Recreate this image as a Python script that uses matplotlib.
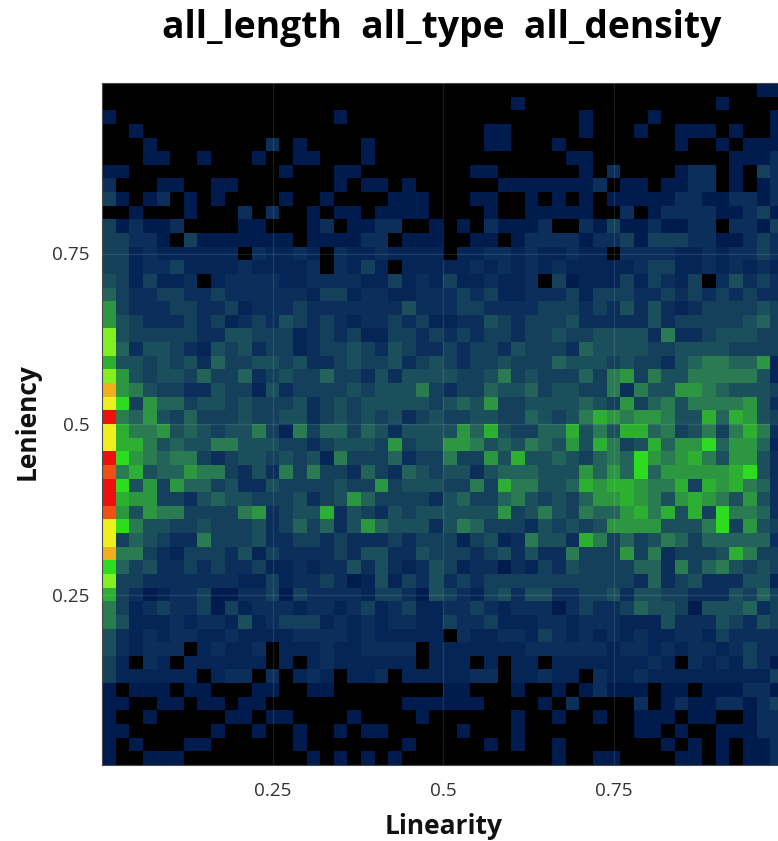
import matplotlib
matplotlib.use("Agg")
import matplotlib.pyplot as plt
import numpy as np
from matplotlib.colors import ListedColormap, BoundaryNorm

TITLE = "all_length  all_type  all_density"
X_LABEL = "Linearity"
Y_LABEL = "Leniency"
TICK_VALUES = [0.25, 0.5, 0.75]
TICK_LABELS = ["0.25", "0.5", "0.75"]

# Density level per cell, top row first, one character per cell
LEVEL_ROWS = [
    "0000000000000000000000000" "0000000000000000000000011",
    "0000000000000000000000000" "0000010000000000000010000",
    "1000000000000000010000000" "0000000000100001000000001",
    "0010000000000000000000000" "0001100000100010011101001",
    "0001000000002010000100000" "0001100010000000010010111",
    "0001100100010011000100000" "0000000001100000000001112",
    "1100000000000100011000000" "0011000000102000012201032",
    "2000110011000000010110100" "0000111111120110112201012",
    "3101201010000100100001110" "0011001010101111122112212",
    "0010001000202001011011110" "0001001111100201222211231",
    "3121120000110001201122001" "0102111200213112112202213",
    "3322103111111101111220111" "0011012222122313332211232",
    "33f2f" "fffff" "02ff2" "f02ff" "2ffff" "0ff22" "f2ff2" "ff022" "22ff2" "f2232",
    "33f22" "3ffff" "2ffff" "202f3" "f0fff" "ff2f2" "f2f2f" "ffff2" "33ff2" "f2f2f",
    "43f3f" "f20f2" "222ff" "2222f" "f3f2f" "3ff2f" "f2031" "fff3f" "32f30" "24232",
    "53223" "32232" "22222" "f33f2" "2ff22" "2323f" "f2223" "f3332" "23232" "32322",
    "73222" "33223" "f2223" "22222" "22422" "23322" "22333" "23242" "42f23" "33343",
    "74322" "2323f" "23243" "232f2" "2323f" "f2243" "23334" "22222" "42333" "33453",
    "a4333" "33224" "4333f" "2323f" "f3323" "23233" "23343" "34444" "26223" "44433",
    "a5244" "32f43" "4233f" "23343" "24322" "32332" "43332" "54444" "33444" "43333",
    "84434" "34253" "34434" "22343" "34234" "32334" "33354" "44343" "32456" "6557f",
    "a7434" "43533" "52343" "35332" "42444" "43346" "34333" "53673" "64466" "6664f",
    "c7643" "32243" "3f423" "33343" "44463" "23354" "45344" "33626" "44776" "54443",
    "b9375" "53443" "43334" "23434" "44443" "45473" "34444" "54373" "56466" "66742",
    "e6574" "35333" "43344" "23434" "34234" "33443" "35434" "68767" "76448" "58743",
    "b8667" "45434" "463f6" "35535" "42444" "47584" "33558" "46488" "56346" "36862",
    "b8864" "54466" "44433" "23444" "37344" "77645" "46547" "48634" "85779" "5775f",
    "e9765" "66323" "44343" "4f633" "35233" "63374" "84454" "35659" "76786" "47742",
    "d6845" "57663" "24263" "63325" "32543" "44245" "55444" "75759" "57777" "78942",
    "e9473" "75534" "22433" "33433" "73444" "33638" "66445" "87887" "66838" "78652",
    "e8773" "32454" "43334" "23475" "33332" "45335" "64343" "57787" "64787" "64742",
    "d7476" "63333" "67234" "48243" "24344" "44447" "34643" "65578" "68483" "96652",
    "b9644" "33433" "34235" "35247" "54442" "46533" "32434" "34777" "74446" "93743",
    "b3543" "22633" "34223" "32322" "23233" "3f34f" "26442" "86353" "46535" "55552",
    "c6632" "f3332" "4f322" "22324" "42243" "33234" "24226" "33373" "62333" "48633",
    "95342" "23232" "23ff2" "f2242" "42f24" "3f221" "2f324" "33335" "52635" "64343",
    "a3322" "22222" "ff3f2" "2321f" "4f324" "23233" "33333" "33332" "52342" "2244f",
    "8321f" "22311" "22313" "2222f" "33214" "32f34" "24422" "33424" "43322" "24353",
    "63f23" "22313" "f222f" "22f23" "f23ff" "2232f" "22212" "32235" "44314" "44523",
    "64fff" "2f22f" "4f233" "3f2f2" "f22ff" "3223f" "ff22f" "222ff" "f4222" "43243",
    "42f2f" "22ff2" "ffff2" "222f2" "fffff" "02ff2" "2f32f" "2f2f2" "ff22f" "32222",
    "42f22" "20f2f" "f20ff" "f2ff2" "2220f" "fffff" "f2222" "22f22" "f2f22" "f2322",
    "3f02f" "0ffff" "ff0f0" "f2fff" "fff0f" "ff0f0" "ff0ff" "fffff" "2f02f" "2f321",
    "3ffff" "ff0f2" "2020f" "2f0ff" "20fff" "ff220" "ff2ff" "02ff2" "fffff" "ffff3",
    "10111" "01100" "01100" "11000" "00000" "11000" "10010" "12111" "01101" "11221",
    "11001" "10110" "11000" "00000" "00111" "11100" "00102" "00002" "01211" "22123",
    "10010" "00001" "10110" "00010" "00010" "00000" "10010" "01001" "11011" "00122",
    "11000" "00010" "01001" "00101" "10000" "01000" "10000" "00001" "10100" "11122",
    "10100" "01100" "00001" "00000" "00100" "00010" "10010" "00000" "01010" "10112",
    "10011" "10000" "00000" "10101" "01000" "00000" "00010" "01100" "00110" "10112",
]

LEVEL_ORDER = "01f23456789abcde"
LEVEL_COLORS = [
    "#000000", "#001b4e", "#052556", "#0b2e5a", "#14405c", "#1c4f5c", "#24635a",
    "#2a7a52", "#2d9641", "#2daf32", "#2ddc1e", "#82f01e", "#ebf01e",
    "#f0af1e", "#f05014", "#f00f0f",
]

levels = np.array([[LEVEL_ORDER.index(c) for c in row] for row in LEVEL_ROWS])
assert levels.shape == (50, 50), levels.shape

plt.rcParams["font.family"] = ["Open Sans", "DejaVu Sans"]

W, H = 778, 841
fig = plt.figure(figsize=(W / 100, H / 100), dpi=100)
left, top, size = 102, 83, 682
ax = fig.add_axes([left / W, 1 - (top + size) / H, size / W, size / H])

cmap = ListedColormap(LEVEL_COLORS)
norm = BoundaryNorm(np.arange(-0.5, len(LEVEL_COLORS)), cmap.N)
ax.imshow(levels, cmap=cmap, norm=norm, extent=[0, 1, 0, 1], origin="upper",
          aspect="auto", interpolation="nearest")

ax.set_xlim(0, 1)
ax.set_ylim(0, 1)
ax.set_xticks(TICK_VALUES, TICK_LABELS)
ax.set_yticks(TICK_VALUES, TICK_LABELS)
ax.tick_params(axis="both", length=0, labelsize=13.6, colors="#333333")
ax.tick_params(axis="x", pad=12)
ax.tick_params(axis="y", pad=9)
ax.grid(True, color="white", alpha=0.1, linewidth=1)
ax.set_axisbelow(False)
for s in ax.spines.values():
    s.set_color("#4a4a4a")
    s.set_linewidth(0.8)

fig.text(442 / W, 1 - 38 / H, TITLE, ha="center", va="baseline",
         fontsize=26.8, fontweight="bold", color="black")
fig.text(443.5 / W, 1 - 834 / H, X_LABEL, ha="center", va="baseline",
         fontsize=19, fontweight="bold", color="#111111")
fig.text(27 / W, 1 - 422 / H, Y_LABEL, ha="center", va="center", rotation=90,
         fontsize=19, fontweight="bold", color="#111111")

fig.savefig("out.png", dpi=100)
